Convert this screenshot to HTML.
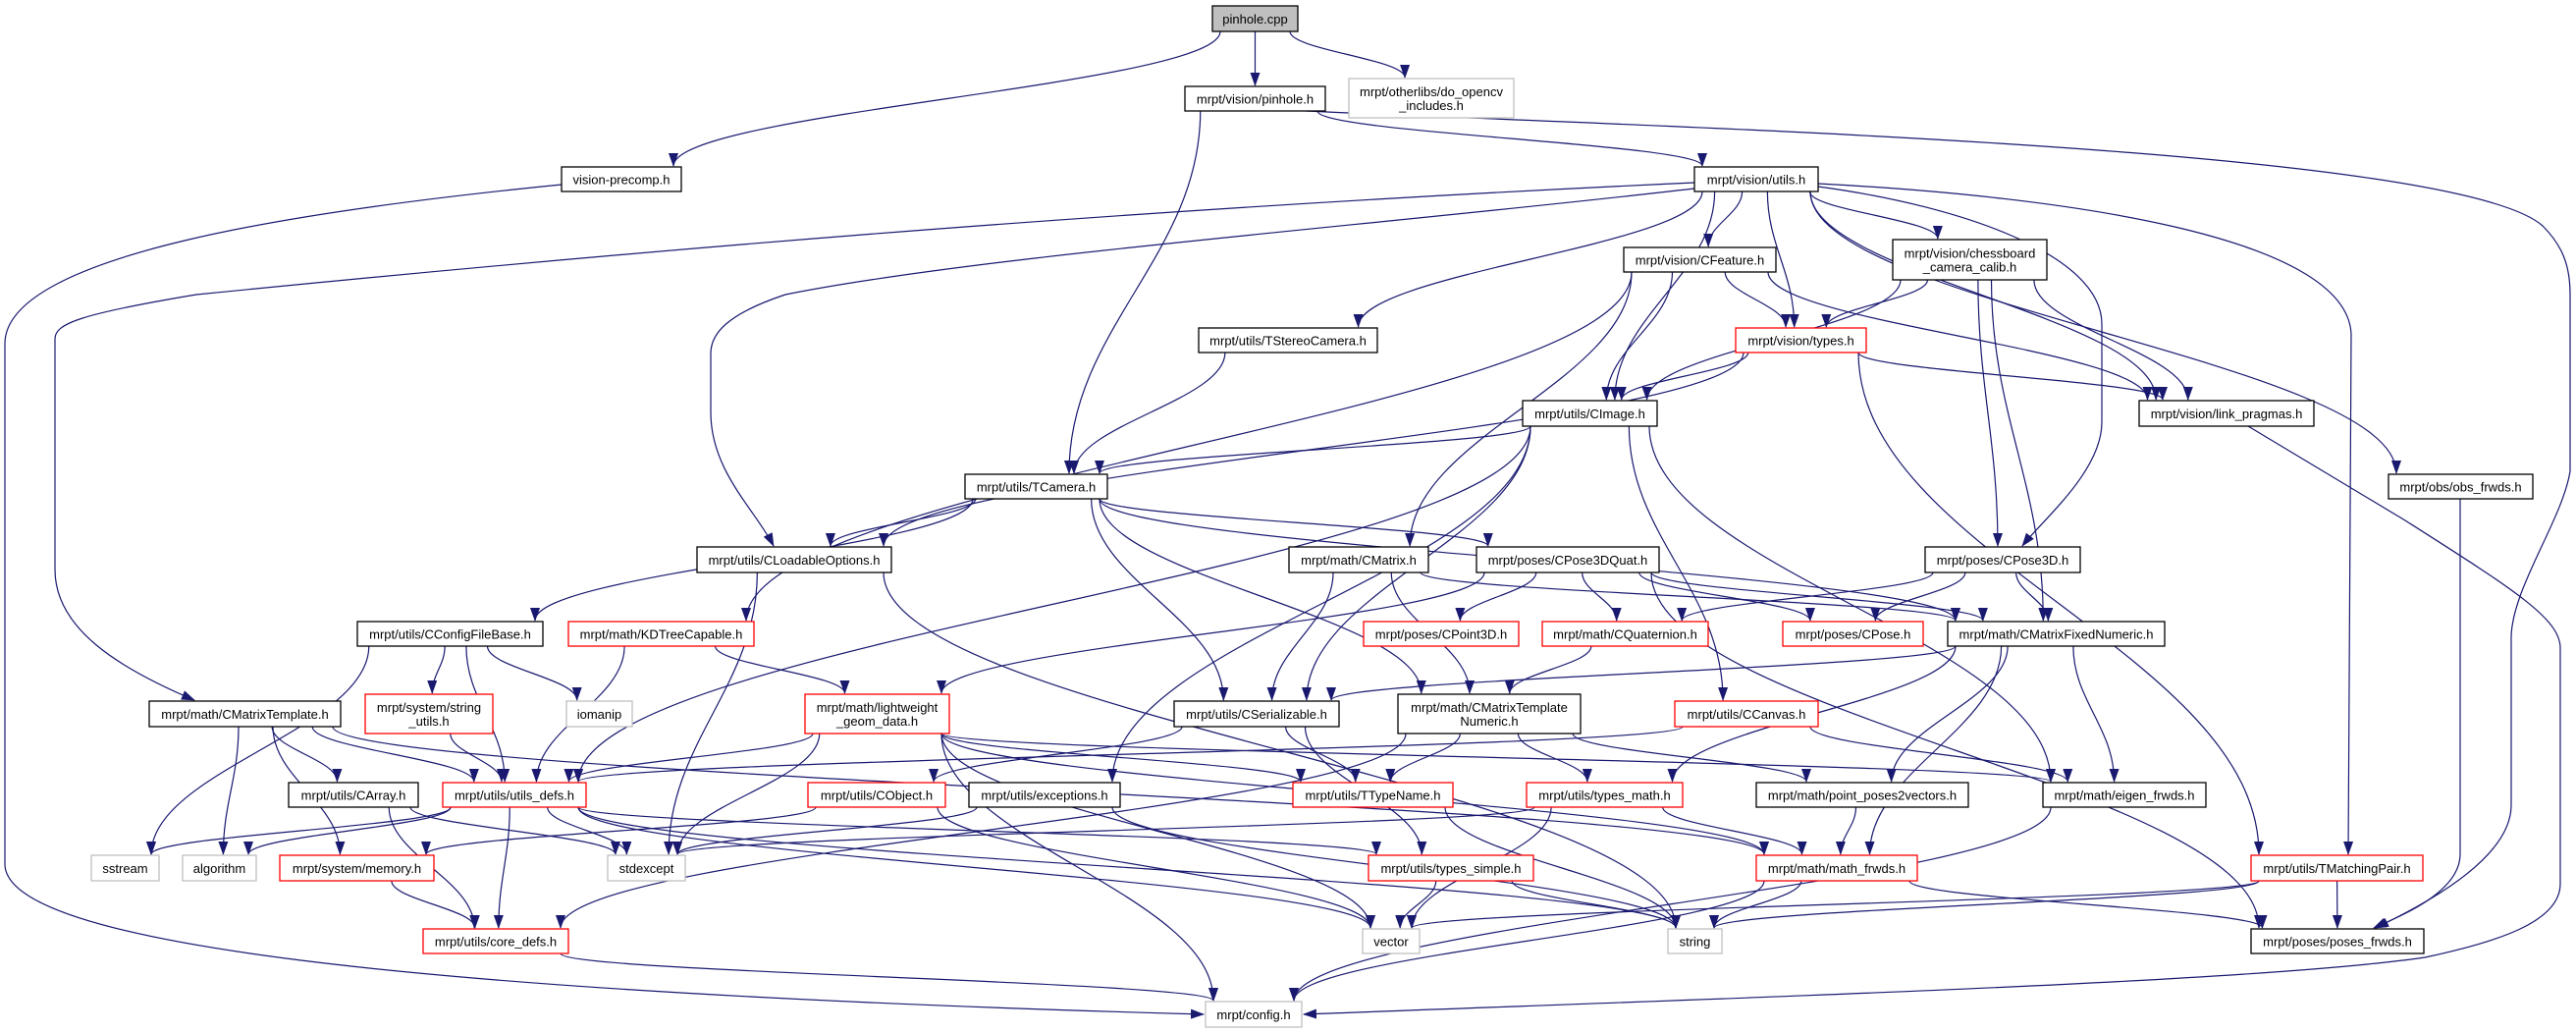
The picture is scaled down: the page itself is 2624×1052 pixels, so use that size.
<!DOCTYPE html>
<html><head><meta charset="utf-8"><style>
html,body{margin:0;padding:0;background:#fff;}
svg{display:block;}
text{font-family:"Liberation Sans",Arial,sans-serif;font-size:13px;fill:#000;}
</style></head><body>
<svg id="g" width="2624" height="1052" viewBox="0 0 2624 1052" xmlns="http://www.w3.org/2000/svg">
<defs><marker id="ar" markerWidth="14" markerHeight="10" refX="13" refY="5" orient="auto" markerUnits="userSpaceOnUse"><path d="M0,0 L14,5 L0,10 z" fill="#191970"/></marker></defs>
<g id="edges" fill="none" stroke="#191970" stroke-width="1.2"></g>
<g id="nodes"></g>
</svg>
<script>
var N={
cpp:[1235,6,1322,32,"pinhole.cpp","f"],
pre:[572,170,694,195,"vision-precomp.h","k"],
ph:[1207,88,1350,113,"mrpt/vision/pinhole.h","k"],
ocv:[1374,80,1542,120,"mrpt/otherlibs/do_opencv|_includes.h","g"],
vu:[1726,170,1852,195,"mrpt/vision/utils.h","k"],
cf:[1654,252,1809,277,"mrpt/vision/CFeature.h","k"],
cb:[1928,244,2085,285,"mrpt/vision/chessboard|_camera_calib.h","k"],
ts:[1221,334,1403,359,"mrpt/utils/TStereoCamera.h","k"],
ty:[1768,334,1901,359,"mrpt/vision/types.h","r"],
ci:[1551,408,1688,434,"mrpt/utils/CImage.h","k"],
lp:[2179,408,2357,434,"mrpt/vision/link_pragmas.h","k"],
tc:[983,483,1128,508,"mrpt/utils/TCamera.h","k"],
ob:[2433,483,2580,508,"mrpt/obs/obs_frwds.h","k"],
lo:[710,557,908,583,"mrpt/utils/CLoadableOptions.h","k"],
cm:[1313,557,1455,583,"mrpt/math/CMatrix.h","k"],
pq:[1504,557,1690,583,"mrpt/poses/CPose3DQuat.h","k"],
p3:[1961,557,2119,583,"mrpt/poses/CPose3D.h","k"],
cfg:[364,633,553,658,"mrpt/utils/CConfigFileBase.h","k"],
kd:[579,633,768,658,"mrpt/math/KDTreeCapable.h","r"],
pt:[1389,633,1547,658,"mrpt/poses/CPoint3D.h","r"],
qu:[1571,633,1740,658,"mrpt/math/CQuaternion.h","r"],
po:[1816,633,1959,658,"mrpt/poses/CPose.h","r"],
fx:[1984,633,2205,658,"mrpt/math/CMatrixFixedNumeric.h","k"],
mt:[152,714,347,740,"mrpt/math/CMatrixTemplate.h","k"],
su:[372,707,502,747,"mrpt/system/string|_utils.h","r"],
io:[577,714,644,740,"iomanip","g"],
lw:[820,707,967,747,"mrpt/math/lightweight|_geom_data.h","r"],
se:[1196,714,1364,740,"mrpt/utils/CSerializable.h","k"],
tn:[1424,707,1610,747,"mrpt/math/CMatrixTemplate|Numeric.h","k"],
cc:[1706,714,1852,740,"mrpt/utils/CCanvas.h","r"],
ca:[294,797,426,822,"mrpt/utils/CArray.h","k"],
ud:[451,797,597,822,"mrpt/utils/utils_defs.h","r"],
co:[823,797,963,822,"mrpt/utils/CObject.h","r"],
ex:[987,797,1141,822,"mrpt/utils/exceptions.h","k"],
tt:[1317,797,1480,822,"mrpt/utils/TTypeName.h","r"],
tm:[1555,797,1714,822,"mrpt/utils/types_math.h","r"],
pp:[1789,797,2005,822,"mrpt/math/point_poses2vectors.h","k"],
ef:[2081,797,2247,822,"mrpt/math/eigen_frwds.h","k"],
ss:[93,871,162,897,"sstream","g"],
al:[186,871,261,897,"algorithm","g"],
me:[285,871,442,897,"mrpt/system/memory.h","r"],
sx:[619,871,698,897,"stdexcept","g"],
ts2:[1394,871,1562,897,"mrpt/utils/types_simple.h","r"],
mf:[1789,871,1953,897,"mrpt/math/math_frwds.h","r"],
mp:[2293,871,2468,897,"mrpt/utils/TMatchingPair.h","r"],
cd:[431,946,579,971,"mrpt/utils/core_defs.h","r"],
ve:[1388,946,1446,971,"vector","g"],
st:[1699,946,1754,971,"string","g"],
pf:[2293,946,2469,971,"mrpt/poses/poses_frwds.h","k"],
cg:[1228,1020,1326,1046,"mrpt/config.h","g"]
};
var E="cpp>pre cpp>ph cpp>ocv ph>tc ph>vu vu>cf vu>ty vu>cb vu>ci vu>ts vu>lp vu>ob cf>ty cf>ci cf>lp cf>kd cf>cm cb>ty cb>ci cb>p3 cb>fx cb>lp ty>ci ty>lp ty>lo ty>mp ts>tc ci>tc ci>se ci>ud ci>ex ci>cc ci>ef tc>lo tc>cfg tc>se tc>tn tc>pq tc>fx lo>sx lo>st cm>se cm>tn cm>fx pq>pt pq>qu pq>po pq>fx pq>lw pq>pf p3>po p3>fx p3>qu cfg>su cfg>io cfg>ud cfg>ss kd>ud kd>lw qu>tn fx>se fx>pp fx>ef fx>mf fx>tm mt>ca mt>ud mt>al mt>me mt>mf su>ud lw>ud lw>sx lw>tt lw>ve lw>cg lw>ef lw>mf se>co se>tt se>ts2 tn>tt tn>tm tn>cd tn>pp cc>ud cc>ef ca>sx ca>cd ud>ss ud>al ud>sx ud>cd ud>ve ud>ts2 ud>st co>me co>ve ex>sx ex>st tt>st tm>sx tm>ve tm>mf pp>mf ef>cg ts2>ve ts2>st mf>st mf>cg mf>pf mp>ve mp>st mp>pf me>cd cd>cg".split(" ");
var man=[
"M572,188 C300,215 5,260 5,350 L5,880 C5,960 400,1010 1226,1033",
"M1726,186 C1200,210 700,250 200,300 C80,320 56,330 56,345 L56,580 C56,640 120,680 198,713",
"M1726,192 C1400,230 1000,260 800,300 C740,320 724,340 724,360 L724,420 C724,480 770,520 788,556",
"M1330,113 C1700,130 2500,150 2590,230 C2610,250 2618,270 2618,300 L2618,480 C2610,530 2558,600 2558,650 L2558,820 C2558,880 2450,930 2420,945",
"M2290,434 L2450,530 C2560,600 2608,630 2608,660 L2608,900 C2608,940 2540,960 2470,975 C2300,1000 1800,1015 1328,1033",
"M2506,508 L2506,870 C2506,910 2440,935 2418,945",
"M1852,187 C2100,200 2390,240 2395,340 L2392,870",
"M1852,190 C2000,210 2141,260 2141,330 L2141,430 C2141,480 2080,530 2060,556"
];
var ns="http://www.w3.org/2000/svg",eg=document.getElementById("edges"),ng=document.getElementById("nodes");
function path(d){var p=document.createElementNS(ns,"path");p.setAttribute("d",d);p.setAttribute("marker-end","url(#ar)");eg.appendChild(p);}
E.forEach(function(e){var a=N[e.split(">")[0]],b=N[e.split(">")[1]];
var scx=(a[0]+a[2])/2,tcx=(b[0]+b[2])/2;
var sx=Math.max(a[0]+8,Math.min(a[2]-8,scx+(tcx-scx)*0.25)),sy=a[3];
var tx=Math.max(b[0]+8,Math.min(b[2]-8,tcx+(scx-tcx)*0.15)),ty=b[1]-1;
var dy=ty-sy;
path("M"+sx+","+sy+" C"+sx+","+(sy+dy*0.4)+" "+tx+","+(ty-dy*0.4)+" "+tx+","+ty);});
man.forEach(path);
for(var k in N){var n=N[k];var r=document.createElementNS(ns,"rect");
r.setAttribute("x",n[0]);r.setAttribute("y",n[1]);r.setAttribute("width",n[2]-n[0]);r.setAttribute("height",n[3]-n[1]);
var c=n[5];r.setAttribute("fill",c=="f"?"#bfbfbf":"#fff");r.setAttribute("stroke",c=="r"?"#ff0000":c=="g"?"#bfbfbf":"#000");r.setAttribute("stroke-width","1.3");ng.appendChild(r);
var lines=n[4].split("|"),cx=(n[0]+n[2])/2,cy=(n[1]+n[3])/2;
lines.forEach(function(l,i){var t=document.createElementNS(ns,"text");t.setAttribute("x",cx);
t.setAttribute("y",cy+5+(i-(lines.length-1)/2)*14);t.setAttribute("text-anchor","middle");t.textContent=l;ng.appendChild(t);});}
</script>
</body></html>
